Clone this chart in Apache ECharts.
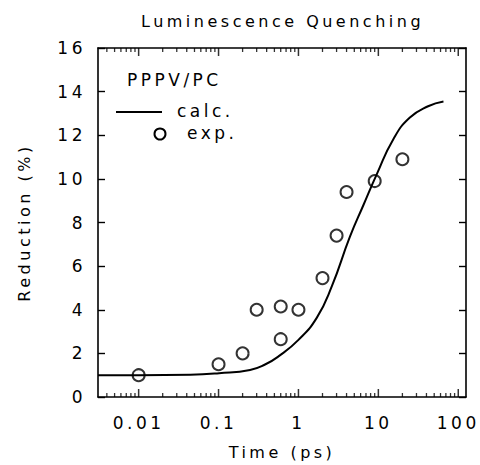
<!DOCTYPE html>
<html>
<head>
<meta charset="utf-8">
<script src="https://cdn.jsdelivr.net/npm/echarts@6/dist/echarts.min.js"></script>
<style>
	html, body { margin: 0; padding: 0; background: #fff; }
	#chart { width: 480px; height: 465px; }
	#chart text { letter-spacing: 3.5px; }
</style>
</head>
<body>
<div id="chart"></div>
<script>
// 数据
var calcTime = [0.0031, 0.01, 0.0443, 0.1016, 0.248, 0.382, 0.562, 1.0, 1.7, 2.62, 4.41, 6.49, 9.6, 15.4, 24.6, 41.9, 65.3];
var calcReduction = [1.0, 1.0, 1.02, 1.09, 1.24, 1.49, 1.86, 2.62, 3.64, 5.08, 7.35, 8.79, 10.23, 11.82, 12.8, 13.33, 13.55];
var expTime = [0.01, 0.1, 0.2, 0.3, 0.6, 0.6, 1, 2, 3, 4, 9, 20];
var expReduction = [1.0, 1.5, 2.0, 4.0, 4.15, 2.65, 4.0, 5.45, 7.4, 9.4, 9.9, 10.9];
var majorTicks = [0.01, 0.1, 1, 10, 100];
var minorMultipliers = [2, 3, 4, 5, 6, 7, 8, 9];
var yTicks = [0, 2, 4, 6, 8, 10, 12, 14, 16];

var xMin = 0.0031, xMax = 125;

// 对数副刻度 k*10^n
var minorTicks = [];
for(var d = -3; d <= 2; d++) {
	for(var k = 0; k < minorMultipliers.length; k++) {
		var v = minorMultipliers[k] * Math.pow(10, d);
		if(v > xMin && v < xMax) minorTicks.push(v);
	}
}

function zip(a, b) {
	var out = [];
	for(var i = 0; i < a.length; i++) out.push([a[i], b[i]]);
	return out;
}

// 上下两边的刻度标记（向内）
function tickData(values, len) {
	var out = [];
	for(var i = 0; i < values.length; i++) {
		out.push({ value: [values[i], yTicks[0]], symbolOffset: [0, -len / 2] });
		out.push({ value: [values[i], yTicks[yTicks.length - 1]], symbolOffset: [0, len / 2] });
	}
	return out;
}

var font = 'DejaVu Sans';
var mychart = echarts.init(document.getElementById('chart'), null, { renderer: 'svg' });

function xAxisBase(pos, showLabel) {
	return {
		type: 'log',
		position: pos,
		min: xMin,
		max: xMax,
		name: showLabel ? 'Time (ps)' : '',
		nameLocation: 'middle',
		nameGap: 47,
		nameTextStyle: { color: '#000', fontFamily: font, fontSize: 16 },
		axisLine: { show: true, onZero: false, lineStyle: { color: '#000', width: 1.6 } },
		axisTick: { show: false },
		splitLine: { show: false },
		minorTick: { show: false },
		axisLabel: {
			show: showLabel,
			color: '#000',
			fontFamily: font,
			fontSize: 17,
			margin: 17,
			showMinLabel: false,
			showMaxLabel: false,
			formatter: function(val) {
				for(var i = 0; i < majorTicks.length; i++) {
					if(Math.abs(val / majorTicks[i] - 1) < 1e-6) return String(majorTicks[i]);
				}
				return '';
			}
		}
	};
}

function yAxisBase(pos, showLabel) {
	return {
		type: 'value',
		position: pos,
		min: yTicks[0],
		max: yTicks[yTicks.length - 1],
		interval: 2,
		name: showLabel ? 'Reduction (%)' : '',
		nameLocation: 'middle',
		nameGap: 66,
		nameTextStyle: { color: '#000', fontFamily: font, fontSize: 16 },
		axisLine: { show: true, lineStyle: { color: '#000', width: 1.6 } },
		axisTick: { show: true, inside: true, length: 7, lineStyle: { color: '#000', width: 1.4 } },
		splitLine: { show: false },
		axisLabel: { show: showLabel, color: '#000', fontFamily: font, fontSize: 17, margin: 12 }
	};
}

var legendFont = '17px "DejaVu Sans"';
var option = {
	animation: false,
	title: {
		text: 'Luminescence Quenching',
		left: 136,
		top: 8,
		textStyle: { color: '#000', fontFamily: font, fontSize: 16, fontWeight: 'normal' }
	},
	grid: { left: 98, right: 14, top: 48, bottom: 65 },
	xAxis: [xAxisBase('bottom', true), xAxisBase('top', false)],
	yAxis: [yAxisBase('left', true), yAxisBase('right', false)],
	graphic: [
		{ type: 'text', left: 127, top: 71, style: { text: 'PPPV/PC', fill: '#000', font: legendFont } },
		{ type: 'line', shape: { x1: 116, y1: 112, x2: 162, y2: 112 }, style: { stroke: '#000', lineWidth: 2 } },
		{ type: 'text', left: 177, top: 102, style: { text: 'calc.', fill: '#000', font: legendFont } },
		{ type: 'circle', shape: { cx: 160, cy: 134, r: 5.5 }, style: { fill: 'none', stroke: '#000', lineWidth: 2 } },
		{ type: 'text', left: 187, top: 124, style: { text: 'exp.', fill: '#000', font: legendFont } }
	],
	series: [
		{
			name: 'calc.',
			type: 'line',
			data: zip(calcTime, calcReduction),
			smooth: 0.5,
			showSymbol: false,
			lineStyle: { color: '#000', width: 2 },
			silent: true
		},
		{
			name: 'exp.',
			type: 'scatter',
			data: zip(expTime, expReduction),
			symbol: 'circle',
			symbolSize: 12,
			itemStyle: { color: 'rgba(0,0,0,0)', borderColor: '#000', borderWidth: 2 },
			silent: true
		},
		{
			name: 'majorTicks',
			type: 'scatter',
			data: tickData(majorTicks, 8),
			symbol: 'rect',
			symbolSize: [1.5, 8],
			itemStyle: { color: '#000' },
			clip: false,
			silent: true,
			z: 5
		},
		{
			name: 'minorTicks',
			type: 'scatter',
			data: tickData(minorTicks, 4),
			symbol: 'rect',
			symbolSize: [1.3, 4],
			itemStyle: { color: '#000' },
			clip: false,
			silent: true,
			z: 5
		}
	]
};
mychart.setOption(option);
</script>
</body>
</html>
